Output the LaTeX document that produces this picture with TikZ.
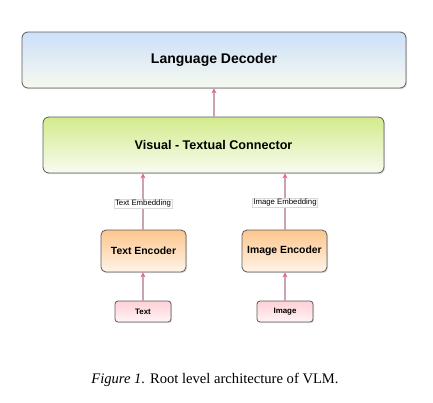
\documentclass[tikz,border=0pt]{standalone}
\usepackage{fontspec}
\setmainfont{Liberation Serif}
\setsansfont{Liberation Sans}
\usetikzlibrary{shadows,arrows.meta}
\definecolor{bordc}{HTML}{5A5A5A}
\definecolor{arrline}{HTML}{C9A3B4}
\definecolor{arrtip}{HTML}{E8648E}
\definecolor{decTop}{HTML}{CCE0F9}
\definecolor{decBot}{HTML}{F7F9EF}
\definecolor{conTop}{HTML}{D3EB8B}
\definecolor{conBot}{HTML}{F9FBF1}
\definecolor{encTop}{HTML}{FCC68D}
\definecolor{encBot}{HTML}{FFF4E8}
\definecolor{inTop}{HTML}{FFD0D7}
\definecolor{inBot}{HTML}{FFF4F5}
\tikzset{
  x=1pt,y=-1pt,
  boxbase/.style={draw=bordc, line width=0.8pt, font=\sffamily\bfseries,
    drop shadow={opacity=0.25, shadow xshift=1pt, shadow yshift=-1.2pt},
    inner sep=0pt, text=black},
  decbox/.style={boxbase, rounded corners=6pt, top color=decTop, bottom color=decBot,
    minimum width=384pt, minimum height=56pt, font=\sffamily\bfseries\fontsize{14}{16}\selectfont},
  conbox/.style={boxbase, rounded corners=6pt, top color=conTop, bottom color=conBot,
    minimum width=341pt, minimum height=56pt, font=\sffamily\bfseries\fontsize{12.6}{15}\selectfont},
  encbox/.style={boxbase, rounded corners=5pt, top color=encTop, bottom color=encBot,
    minimum width=85pt, minimum height=42pt, font=\sffamily\bfseries\fontsize{10.4}{12}\selectfont},
  inbox/.style={boxbase, rounded corners=3pt, top color=inTop, bottom color=inBot,
    minimum width=56pt, minimum height=21pt, font=\sffamily\bfseries\fontsize{7.9}{9}\selectfont},
  embl/.style={fill=white, draw=black!15, line width=0.4pt, inner sep=1pt,
    font=\sffamily\fontsize{7.8}{9}\selectfont},
  flow/.style={draw=arrline, line width=1.1pt,
    -{Stealth[length=5pt,width=5pt,color=arrtip]}},
}
\begin{document}
\begin{tikzpicture}
\useasboundingbox (0,0) rectangle (433,402);
\node[decbox] (dec) at (214,60) {Language Decoder};
\node[conbox] (con) at (213.5,145) {Visual - Textual Connector};
\node[encbox] (tenc) at (143.5,251) {Text Encoder};
\node[encbox] (ienc) at (284.5,251) {Image Encoder};
\node[inbox] (tin) at (143,311.5) {Text};
\node[inbox] (iin) at (285,311.5) {Image};
\coordinate (decB) at (214,88);
\coordinate (conL) at (143,173);
\coordinate (conR) at (285,173);
\draw[flow] (con.north -| decB) -- (dec.south -| decB);
\draw[flow] (tenc.north -| conL) -- node[embl, pos=0.456] (tlab) {Text Embedding} (con.south -| conL);
\draw[flow] (ienc.north -| conR) -- node[embl, pos=0.474] (ilab) {Image Embedding} (con.south -| conR);
\draw[flow] (tin.north -| conL) -- (tenc.south -| conL);
\draw[flow] (iin.north -| conR) -- (ienc.south -| conR);
\node[font=\fontsize{14.6}{17}\selectfont, anchor=base] (cap) at (215,383) {\textit{Figure 1.} Root level architecture of VLM.};
\end{tikzpicture}
\end{document}
